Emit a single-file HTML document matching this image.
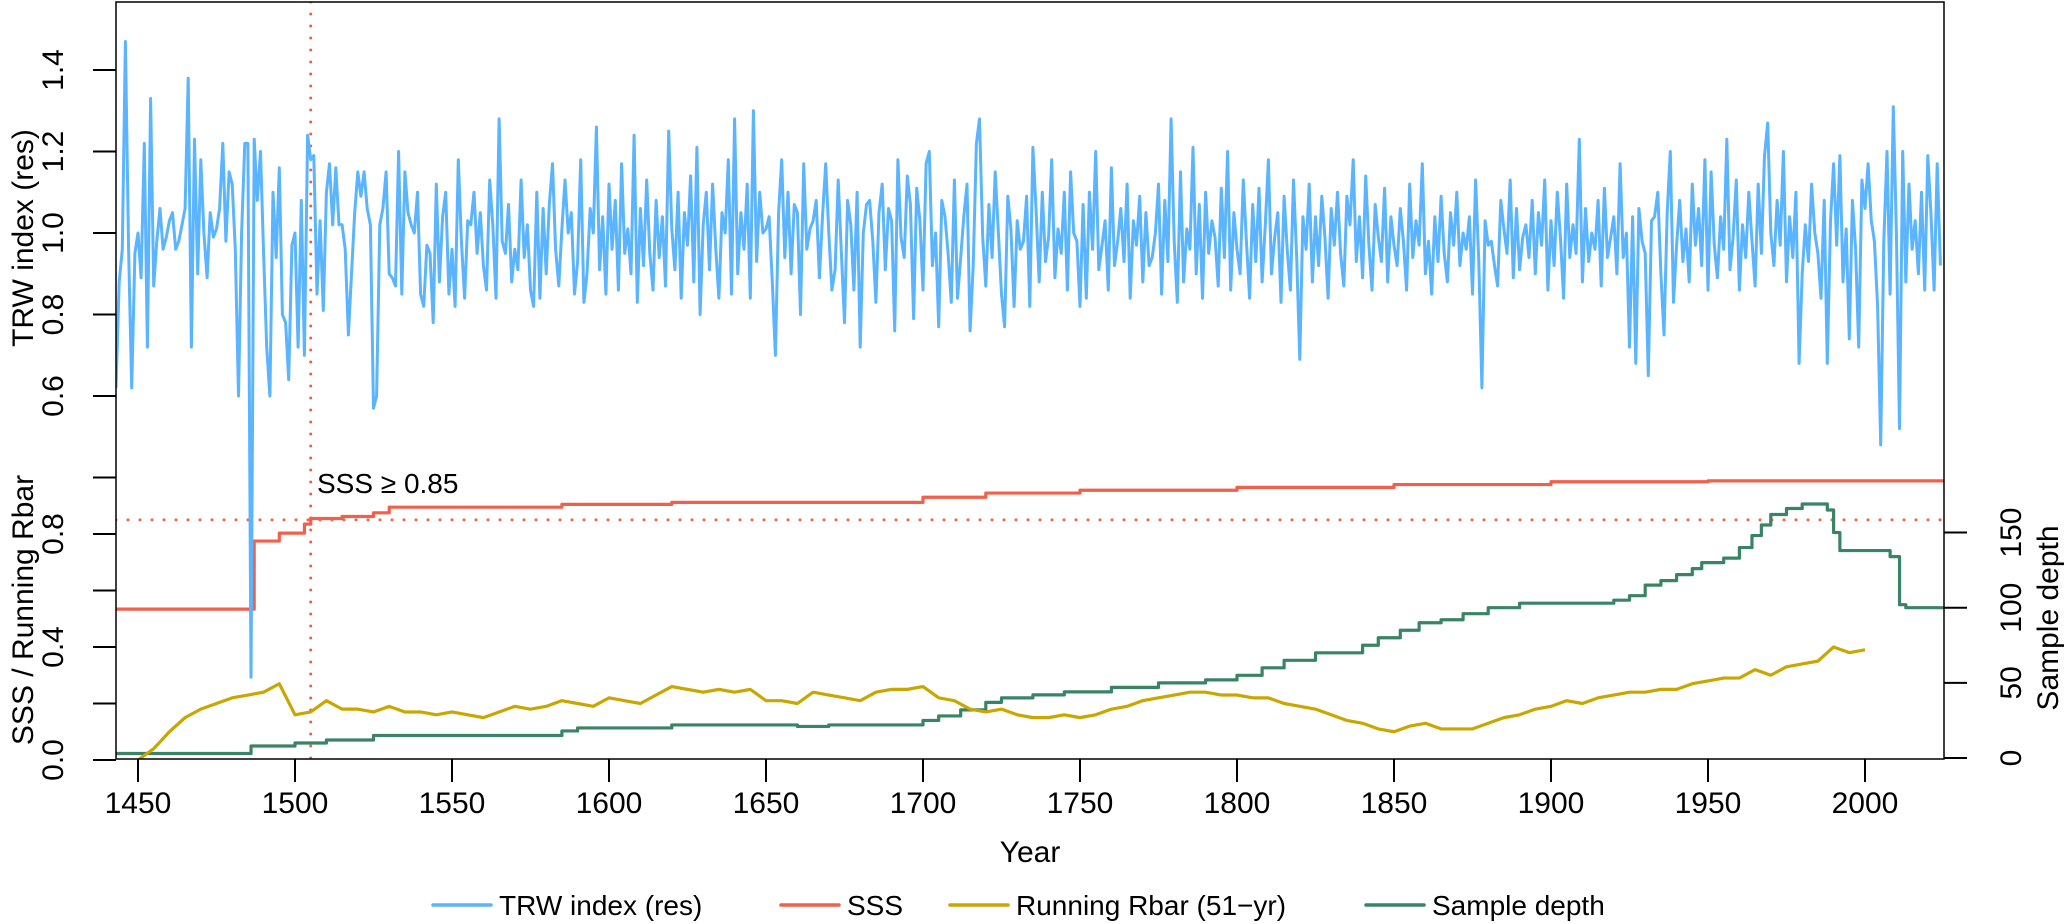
<!DOCTYPE html>
<html><head><meta charset="utf-8">
<style>
html,body{margin:0;padding:0;background:#fff;}
svg{display:block;font-family:"Liberation Sans",Arial,sans-serif;}
</style></head>
<body>
<svg id="chart" width="2067" height="924" viewBox="0 0 2067 924" xmlns="http://www.w3.org/2000/svg">
<g id="marks"></g>
<g id="axes"></g>
</svg>
<script>
const trwStartYear = 1443;
const trwValues = [
62,88,96,147,96,62,95,100,89,122,
72,133,87,98,106,96,99,103,105,96,
98,102,106,138,72,123,90,118,100,89,
105,99,101,106,122,98,115,112,96,60,
100,122,122,-9,123,108,120,95,72,60,
110,94,116,80,78,64,97,100,72,108,
70,124,118,119,85,103,81,110,117,102,
116,102,102,96,75,90,105,115,109,115,
106,102,57,60,102,106,115,90,89,87,
120,85,115,105,102,100,110,85,82,97,
95,78,112,88,104,110,85,96,82,118,
98,84,103,102,110,95,105,92,86,113,
102,84,128,98,95,107,88,96,91,113,
94,102,86,82,110,84,106,90,107,117,
96,87,101,113,100,105,85,93,118,83,
90,106,100,126,91,104,85,112,96,108,
86,117,95,101,90,124,83,106,92,113,
95,86,108,94,104,87,125,101,91,110,
84,105,97,114,88,121,80,102,110,91,
112,96,84,105,100,118,85,128,90,105,
96,112,84,130,93,110,100,101,104,88,
70,105,118,94,110,90,107,105,80,117,
96,101,103,108,89,104,117,100,86,91,
113,95,78,108,102,86,110,72,100,107,
108,98,83,105,112,91,106,103,76,118,
99,94,114,107,79,111,103,86,117,120,
92,100,77,108,104,95,83,113,84,94,
104,112,76,92,122,128,99,87,107,94,
115,100,85,77,109,101,82,103,96,98,
109,82,121,106,88,110,93,99,118,89,
101,95,110,86,115,100,98,82,107,84,
110,96,120,91,97,103,86,116,92,98,
106,93,112,84,103,97,109,88,105,92,
94,100,112,85,108,93,128,98,83,115,
88,101,96,121,90,107,84,110,95,103,
99,87,111,94,120,86,105,96,90,113,
98,84,107,93,111,88,102,118,90,99,
105,83,109,96,86,113,94,69,104,96,
112,88,104,92,109,99,84,106,97,110,
95,87,109,102,118,93,104,89,114,97,
86,107,99,93,111,88,104,97,92,106,
98,86,112,94,103,97,117,90,98,85,
104,93,109,95,88,105,97,110,92,100,
96,104,85,113,93,62,103,97,98,92,
87,108,101,95,113,89,106,91,99,102,
94,108,90,105,97,113,86,103,92,110,
99,84,112,94,102,95,123,88,106,93,
100,96,108,87,111,94,99,104,90,117,
94,100,72,104,68,106,98,95,65,103,
104,110,90,75,105,120,83,97,108,93,
101,88,112,97,106,92,118,86,115,97,
89,104,96,123,91,99,113,86,102,94,
110,98,87,112,95,119,127,100,92,108,
97,120,88,104,94,110,68,90,102,93,
112,100,95,84,108,68,103,117,97,119,
88,101,74,108,96,72,113,106,117,103,
98,82,48,98,120,85,131,100,52,120,
88,112,96,103,90,110,86,119,105,86,
117,92];
const sssYears = [1443,1487,1495,1503,1505,1515,1525,1530,1585,1620,1700,1720,1750,1800,1850,1900,1950,2025];
const sssValues = [0.534,0.775,0.803,0.835,0.855,0.862,0.875,0.895,0.905,0.912,0.93,0.945,0.955,0.965,0.975,0.985,0.988,0.988];
const rbarYears = [1450,1455,1460,1465,1470,1475,1480,1485,1490,1495,1500,1505,1510,1515,1520,1525,1530,1535,1540,1545,1550,1555,1560,1565,1570,1575,1580,1585,1590,1595,1600,1605,1610,1615,1620,1625,1630,1635,1640,1645,1650,1655,1660,1665,1670,1675,1680,1685,1690,1695,1700,1705,1710,1715,1720,1725,1730,1735,1740,1745,1750,1755,1760,1765,1770,1775,1780,1785,1790,1795,1800,1805,1810,1815,1820,1825,1830,1835,1840,1845,1850,1855,1860,1865,1870,1875,1880,1885,1890,1895,1900,1905,1910,1915,1920,1925,1930,1935,1940,1945,1950,1955,1960,1965,1970,1975,1980,1985,1990,1995,2000];
const rbarValues = [0.00,0.04,0.10,0.15,0.18,0.20,0.22,0.23,0.24,0.27,0.16,0.17,0.21,0.18,0.18,0.17,0.19,0.17,0.17,0.16,0.17,0.16,0.15,0.17,0.19,0.18,0.19,0.21,0.20,0.19,0.22,0.21,0.20,0.23,0.26,0.25,0.24,0.25,0.24,0.25,0.21,0.21,0.20,0.24,0.23,0.22,0.21,0.24,0.25,0.25,0.26,0.22,0.21,0.18,0.17,0.18,0.16,0.15,0.15,0.16,0.15,0.16,0.18,0.19,0.21,0.22,0.23,0.24,0.24,0.23,0.23,0.22,0.22,0.20,0.19,0.18,0.16,0.14,0.13,0.11,0.10,0.12,0.13,0.11,0.11,0.11,0.13,0.15,0.16,0.18,0.19,0.21,0.20,0.22,0.23,0.24,0.24,0.25,0.25,0.27,0.28,0.29,0.29,0.32,0.30,0.33,0.34,0.35,0.40,0.38,0.39];
const depthYears = [1443,1486,1500,1510,1525,1585,1590,1620,1660,1670,1700,1705,1712,1720,1725,1735,1745,1760,1775,1790,1800,1808,1815,1825,1840,1845,1852,1858,1865,1872,1880,1890,1920,1925,1930,1935,1940,1945,1948,1955,1960,1964,1967,1970,1975,1980,1988,1990,1992,2008,2011,2013,2025];
const depthValues = [3,8,10,12,15,18,20,22,21,22,25,28,32,37,40,42,44,47,50,52,55,60,65,70,75,80,85,90,92,96,100,103,105,108,115,118,122,126,130,133,140,148,155,162,166,169,165,150,138,134,102,100,100];
const xTicks = [1450,1500,1550,1600,1650,1700,1750,1800,1850,1900,1950,2000];
const upperTicks = [0.6,0.8,1.0,1.2,1.4];
const lowerTicks = [0,0.2,0.4,0.6,0.8,1.0];
const lowerLabels = ["0.0","","0.4","","0.8",""];
const depthTicks = [0,50,100,150];
const sssThreshold = 0.85, sssYear = 1505;

const L=116,R=1944,T=2,B=759;
const X = y => 138 + (y-1450)*3.14;
const YU = v => 233 - (v-1.0)*407.5;
const YL = v => 760 - v*282.5;
const YD = n => 758 - n*1.503;

const NS="http://www.w3.org/2000/svg";
const marks=document.getElementById('marks'), axes=document.getElementById('axes');
function mk(tag, attrs, parent){const e=document.createElementNS(NS,tag);for(const k in attrs)e.setAttribute(k,attrs[k]);parent.appendChild(e);return e;}

const defs=mk('defs',{},marks);
const cp=mk('clipPath',{id:'pc'},defs);
mk('rect',{x:L,y:T,width:R-L,height:B-T},cp);
const g=mk('g',{'clip-path':'url(#pc)'},marks);

let ln=mk('line',{x1:L,x2:R,y1:YL(sssThreshold),y2:YL(sssThreshold),stroke:'#F0604A','stroke-width':3,'stroke-dasharray':'0 12','stroke-linecap':'round'},g);


ln=mk('line',{x1:X(sssYear),x2:X(sssYear),y1:T,y2:B,stroke:'#F0604A','stroke-width':3,'stroke-dasharray':'0 12','stroke-linecap':'round'},g);



let d='';
depthYears.forEach((yr,i)=>{const x=X(yr),y=YD(depthValues[i]); if(i===0)d+=`M${x},${y}`; else d+=`H${x}V${y}`;});
let p=mk('path',{d:d,fill:'none',stroke:'#3A8466','stroke-width':3.2,'stroke-linejoin':'round'},g);



d=rbarYears.map((yr,i)=>(i?'L':'M')+X(yr)+','+YL(rbarValues[i])).join('');
p=mk('path',{d:d,fill:'none',stroke:'#C9A600','stroke-width':3.2,'stroke-linejoin':'round'},g);



d='';
sssYears.forEach((yr,i)=>{const x=X(yr),y=YL(sssValues[i]); if(i===0)d+=`M${x},${y}`; else d+=`H${x}V${y}`;});
p=mk('path',{d:d,fill:'none',stroke:'#F0604A','stroke-width':3.2,'stroke-linejoin':'round'},g);



d=trwValues.map((v,i)=>(i?'L':'M')+X(trwStartYear+i).toFixed(1)+','+YU(v/100).toFixed(1)).join('');
p=mk('path',{d:d,fill:'none',stroke:'#5AB4FF','stroke-width':3,'stroke-linejoin':'round'},g);



let bx=mk('rect',{x:L,y:T,width:R-L,height:B-T,fill:'none',stroke:'#000','stroke-width':1.5},axes);



function txt(s,x,y,attrs){const t=mk('text',Object.assign({x:x,y:y,'font-size':30,fill:'#000','text-anchor':'middle'},attrs||{}),axes);t.textContent=s;return t;}

xTicks.forEach(yr=>{
  const l=mk('line',{x1:X(yr),x2:X(yr),y1:B,y2:B+23,stroke:'#000','stroke-width':2},axes);
  
  
  const t=txt(String(yr),X(yr),813);
  
  
});
upperTicks.forEach(v=>{
  const y=YU(v);
  const l=mk('line',{x1:L-23,x2:L,y1:y,y2:y,stroke:'#000','stroke-width':2},axes);
  
  
  const t=txt(v.toFixed(1),0,0,{transform:`translate(63,${y}) rotate(-90)`});
  
  
});
lowerTicks.forEach((v,i)=>{
  const y=YL(v);
  const l=mk('line',{x1:L-23,x2:L,y1:y,y2:y,stroke:'#000','stroke-width':2},axes);
  
  
  if(lowerLabels[i]){
    const t=txt(lowerLabels[i],0,0,{transform:`translate(63,${y}) rotate(-90)`});
    
    
  }
});
depthTicks.forEach(n=>{
  const y=YD(n);
  const l=mk('line',{x1:R,x2:R+23,y1:y,y2:y,stroke:'#000','stroke-width':2},axes);
  
  
  const t=txt(String(n),0,0,{transform:`translate(2021,${y}) rotate(-90)`});
  
  
});
let t=txt('TRW index (res)',0,0,{transform:'translate(33,238) rotate(-90)'});


t=txt('SSS / Running Rbar',0,0,{transform:'translate(33,610) rotate(-90)'});


t=txt('Sample depth',0,0,{transform:'translate(2058,618) rotate(-90)'});


t=txt('Year',1030,862);


t=txt('SSS \u2265 0.85',317,493,{'text-anchor':'start','font-size':28});



const legendNames=['TRW index (res)','SSS','Running Rbar (51\u2212yr)','Sample depth'];
const legendColors=['#5AB4FF','#F0604A','#C9A600','#3A8466'];
const legendX=[433,781,950,1366];
legendNames.forEach((nm,i)=>{
  const gg=mk('g',{},axes);
  
  
  mk('line',{x1:legendX[i],x2:legendX[i]+58,y1:905,y2:905,stroke:legendColors[i],'stroke-width':3.5,'stroke-linecap':'round'},gg);
  const tt=mk('text',{x:legendX[i]+66,y:915,'font-size':28,fill:'#000'},gg);
  tt.textContent=nm;
});
</script>
</body></html>
